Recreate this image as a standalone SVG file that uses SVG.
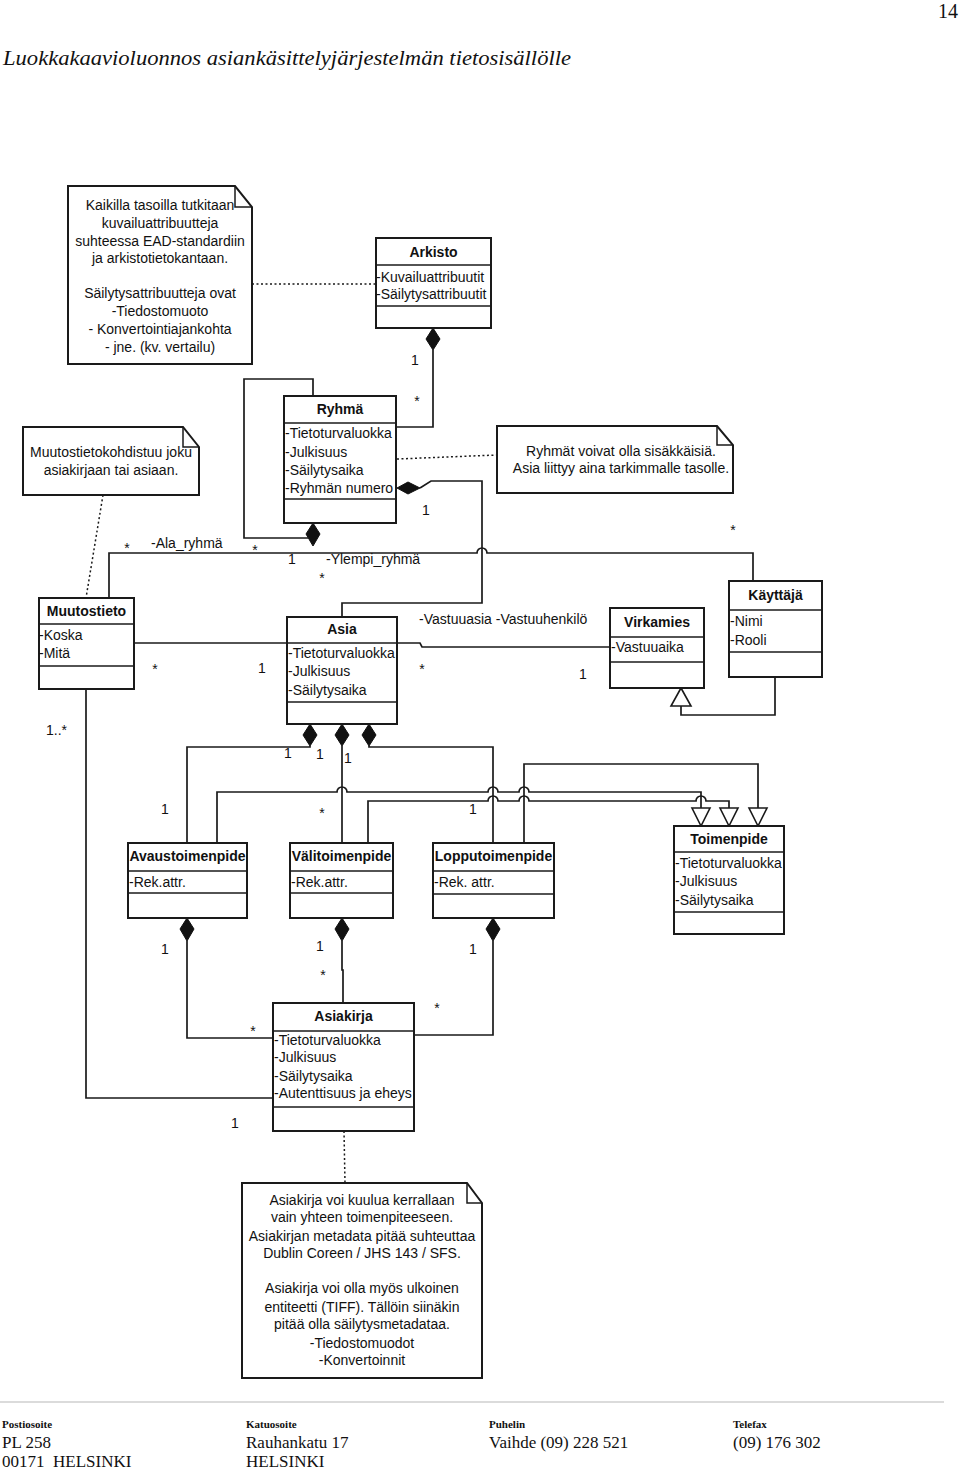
<svg xmlns="http://www.w3.org/2000/svg" width="960" height="1469" viewBox="0 0 960 1469">
<style>
.box{fill:#fff;stroke:#1a1a1a;stroke-width:2}
.sep{stroke:#1a1a1a;stroke-width:1.6}
.ln{fill:none;stroke:#1a1a1a;stroke-width:1.7}
.dot{fill:none;stroke:#1a1a1a;stroke-width:1.5;stroke-dasharray:2 2.5}
.dia{fill:#111;stroke:#111;stroke-width:1}
.tri{fill:#fff;stroke:#1a1a1a;stroke-width:1.6}
.note{fill:#fff;stroke:#1a1a1a;stroke-width:2}
.fold{fill:none;stroke:#1a1a1a;stroke-width:1.5}
.t{font-family:"Liberation Sans",Arial,sans-serif;font-size:14px;fill:#111}
.b{font-weight:bold}
.m{text-anchor:middle}
.serif{font-family:"Liberation Serif","Times New Roman",serif;fill:#111}
</style>
<rect width="960" height="1469" fill="#fff"/>
<g id="header">
<text class="serif" x="958" y="18" font-size="20" text-anchor="end">14</text>
<text class="serif" x="3" y="65" font-size="22" font-style="italic" textLength="568" lengthAdjust="spacingAndGlyphs">Luokkakaavioluonnos asiankäsittelyjärjestelmän tietosisällölle</text>
</g>

<g id="connectors">
<!-- note1 - Arkisto -->
<path class="dot" d="M252,284 L376,284"/>
<!-- Arkisto - Ryhmä -->
<polygon class="dia" points="433,328 440,339 433,350 426,339"/>
<path class="ln" d="M433,350 L433,427 L397,427"/>
<!-- Ryhmä self association -->
<path class="ln" d="M313,396 L313,379 L244,379 L244,538 L308,538"/>
<polygon class="dia" points="313,523 320,534 313,546 306,534"/>
<!-- Ryhmä - note2 -->
<path class="dot" d="M397,459 L497,455"/>
<!-- Ryhmä - Asia -->
<polygon class="dia" points="397,488 408,482 420,488 408,494"/>
<path class="ln" d="M420,488 L431,481 L482,481 L482,603 L342,603 L342,617"/>
<!-- Muutostieto - Käyttäjä -->
<path class="ln" d="M109,598 L109,553 L477,553 A5,5 0 0 1 487,553 L753,553 L753,581"/>
<!-- note3 - Muutostieto -->
<path class="dot" d="M103,495 L86,598"/>
<!-- Muutostieto - Asia -->
<path class="ln" d="M134,643 L287,643"/>
<!-- Asia - Virkamies -->
<path class="ln" d="M397,643 L420,643 L422,647 L610,647"/>
<!-- Käyttäjä -> Virkamies generalization -->
<polygon class="tri" points="681,688 691,706 671,706"/>
<path class="ln" d="M681,706 L681,715 L775,715 L775,677"/>
<!-- Muutostieto - Asiakirja -->
<path class="ln" d="M86,689 L86,1098 L273,1098"/>
<!-- Asia - Avaustoimenpide -->
<polygon class="dia" points="310,724 317,735 310,746 303,735"/>
<path class="ln" d="M310,746 L310,747 L187,747 L187,843"/>
<!-- Asia - Välitoimenpide -->
<polygon class="dia" points="342,724 349,735 342,746 335,735"/>
<path class="ln" d="M342,746 L342,843"/>
<!-- Asia - Lopputoimenpide -->
<polygon class="dia" points="369,724 376,735 369,746 362,735"/>
<path class="ln" d="M369,746 L369,747 L493,747 L493,843"/>
<!-- Avaustoimenpide -> Toimenpide -->
<path class="ln" d="M217,843 L217,792 L337,792 A5,5 0 0 1 347,792 L488,792 A5,5 0 0 1 498,792 L519,792 A5,5 0 0 1 529,792 L701,792 L701,808"/>
<polygon class="tri" points="692,808 710,808 701,826"/>
<!-- Välitoimenpide -> Toimenpide -->
<path class="ln" d="M368,843 L368,801 L488,801 A5,5 0 0 1 498,801 L519,801 A5,5 0 0 1 529,801 L696,801 A5,5 0 0 1 706,801 L729,801 L729,808"/>
<polygon class="tri" points="720,808 738,808 729,826"/>
<!-- Lopputoimenpide -> Toimenpide -->
<path class="ln" d="M524,843 L524,764 L758,764 L758,808"/>
<polygon class="tri" points="749,808 767,808 758,826"/>
<!-- Avaustoimenpide - Asiakirja -->
<polygon class="dia" points="187,918 194,929 187,941 180,929"/>
<path class="ln" d="M187,941 L187,1038 L273,1038"/>
<!-- Välitoimenpide - Asiakirja -->
<polygon class="dia" points="342,918 349,929 342,941 335,929"/>
<path class="ln" d="M342,941 L342,970 L343,970 L343,1003"/>
<!-- Lopputoimenpide - Asiakirja -->
<polygon class="dia" points="493,918 500,929 493,941 486,929"/>
<path class="ln" d="M493,941 L493,1035 L414,1035"/>
<!-- Asiakirja - note4 -->
<path class="dot" d="M344,1131 L345,1183"/>
</g>

<g id="labels" class="t">
<text x="415" y="365" class="m">1</text>
<text x="417" y="406" class="m">*</text>
<text x="426" y="515" class="m">1</text>
<text x="127" y="553" class="m">*</text>
<text x="151" y="548">-Ala_ryhmä</text>
<text x="255" y="555" class="m">*</text>
<text x="292" y="564" class="m">1</text>
<text x="326" y="564">-Ylempi_ryhmä</text>
<text x="322" y="583" class="m">*</text>
<text x="733" y="535" class="m">*</text>
<text x="155" y="674" class="m">*</text>
<text x="262" y="673" class="m">1</text>
<text x="422" y="674" class="m">*</text>
<text x="583" y="679" class="m">1</text>
<text x="419" y="624">-Vastuuasia -Vastuuhenkilö</text>
<text x="46" y="735">1..*</text>
<text x="288" y="758" class="m">1</text>
<text x="320" y="759" class="m">1</text>
<text x="348" y="763" class="m">1</text>
<text x="165" y="814" class="m">1</text>
<text x="322" y="818" class="m">*</text>
<text x="473" y="814" class="m">1</text>
<text x="165" y="954" class="m">1</text>
<text x="320" y="951" class="m">1</text>
<text x="323" y="980" class="m">*</text>
<text x="473" y="954" class="m">1</text>
<text x="253" y="1036" class="m">*</text>
<text x="437" y="1013" class="m">*</text>
<text x="235" y="1128" class="m">1</text>
</g>

<g id="note1">
<path class="note" d="M68,186 L235,186 L252,207 L252,364 L68,364 Z"/>
<path class="fold" d="M235,186 L235,207 L252,207"/>
<g class="t m">
<text x="160" y="210">Kaikilla tasoilla tutkitaan</text>
<text x="160" y="228">kuvailuattribuutteja</text>
<text x="160" y="246">suhteessa EAD-standardiin</text>
<text x="160" y="263">ja arkistotietokantaan.</text>
<text x="160" y="298">Säilytysattribuutteja ovat</text>
<text x="160" y="316">-Tiedostomuoto</text>
<text x="160" y="334">- Konvertointiajankohta</text>
<text x="160" y="352">- jne. (kv. vertailu)</text>
</g>
</g>

<g id="note2">
<path class="note" d="M497,426 L717,426 L733,445 L733,493 L497,493 Z"/>
<path class="fold" d="M717,426 L717,445 L733,445"/>
<text class="t m" x="621" y="456">Ryhmät voivat olla sisäkkäisiä.</text>
<text class="t m" x="621" y="473">Asia liittyy aina tarkimmalle tasolle.</text>
</g>

<g id="note3">
<path class="note" d="M23,427 L183,427 L199,447 L199,495 L23,495 Z"/>
<path class="fold" d="M183,427 L183,447 L199,447"/>
<text class="t m" x="111" y="457">Muutostietokohdistuu joku</text>
<text class="t m" x="111" y="475">asiakirjaan tai asiaan.</text>
</g>

<g id="note4">
<path class="note" d="M242,1183 L467,1183 L482,1203 L482,1378 L242,1378 Z"/>
<path class="fold" d="M467,1183 L467,1203 L482,1203"/>
<g class="t m">
<text x="362" y="1205">Asiakirja voi kuulua kerrallaan</text>
<text x="362" y="1222">vain yhteen toimenpiteeseen.</text>
<text x="362" y="1241">Asiakirjan metadata pitää suhteuttaa</text>
<text x="362" y="1258">Dublin Coreen / JHS 143 / SFS.</text>
<text x="362" y="1293">Asiakirja voi olla myös ulkoinen</text>
<text x="362" y="1312">entiteetti (TIFF). Tällöin siinäkin</text>
<text x="362" y="1329">pitää olla säilytysmetadataa.</text>
<text x="362" y="1348">-Tiedostomuodot</text>
<text x="362" y="1365">-Konvertoinnit</text>
</g>
</g>

<g id="Arkisto">
<rect class="box" x="376" y="238" width="115" height="90"/>
<line class="sep" x1="376" y1="265" x2="491" y2="265"/>
<line class="sep" x1="376" y1="306" x2="491" y2="306"/>
<text class="t b m" x="433.5" y="257">Arkisto</text>
<text class="t" x="376" y="282">-Kuvailuattribuutit</text>
<text class="t" x="376" y="299">-Säilytysattribuutit</text>
</g>

<g id="Ryhma">
<rect class="box" x="284" y="396" width="112" height="127"/>
<line class="sep" x1="284" y1="423" x2="396" y2="423"/>
<line class="sep" x1="284" y1="499" x2="396" y2="499"/>
<text class="t b m" x="340" y="414">Ryhmä</text>
<text class="t" x="285" y="438">-Tietoturvaluokka</text>
<text class="t" x="285" y="457">-Julkisuus</text>
<text class="t" x="285" y="475">-Säilytysaika</text>
<text class="t" x="285" y="493">-Ryhmän numero</text>
</g>

<g id="Muutostieto">
<rect class="box" x="39" y="598" width="95" height="91"/>
<line class="sep" x1="39" y1="624" x2="134" y2="624"/>
<line class="sep" x1="39" y1="666" x2="134" y2="666"/>
<text class="t b m" x="86.5" y="616">Muutostieto</text>
<text class="t" x="39" y="640">-Koska</text>
<text class="t" x="39" y="658">-Mitä</text>
</g>

<g id="Asia">
<rect class="box" x="287" y="617" width="110" height="107"/>
<line class="sep" x1="287" y1="643" x2="397" y2="643"/>
<line class="sep" x1="287" y1="702" x2="397" y2="702"/>
<text class="t b m" x="342" y="634">Asia</text>
<text class="t" x="288" y="658">-Tietoturvaluokka</text>
<text class="t" x="288" y="676">-Julkisuus</text>
<text class="t" x="288" y="695">-Säilytysaika</text>
</g>

<g id="Virkamies">
<rect class="box" x="610" y="608" width="94" height="80"/>
<line class="sep" x1="610" y1="637" x2="704" y2="637"/>
<line class="sep" x1="610" y1="662" x2="704" y2="662"/>
<text class="t b m" x="657" y="627">Virkamies</text>
<text class="t" x="611" y="652">-Vastuuaika</text>
</g>

<g id="Kayttaja">
<rect class="box" x="729" y="581" width="93" height="96"/>
<line class="sep" x1="729" y1="610" x2="822" y2="610"/>
<line class="sep" x1="729" y1="652" x2="822" y2="652"/>
<text class="t b m" x="775.5" y="600">Käyttäjä</text>
<text class="t" x="730" y="626">-Nimi</text>
<text class="t" x="730" y="645">-Rooli</text>
</g>

<g id="Avaustoimenpide">
<rect class="box" x="128" y="843" width="119" height="75"/>
<line class="sep" x1="128" y1="871" x2="247" y2="871"/>
<line class="sep" x1="128" y1="893" x2="247" y2="893"/>
<text class="t b m" x="187.5" y="861">Avaustoimenpide</text>
<text class="t" x="129" y="887">-Rek.attr.</text>
</g>

<g id="Valitoimenpide">
<rect class="box" x="290" y="843" width="103" height="75"/>
<line class="sep" x1="290" y1="871" x2="393" y2="871"/>
<line class="sep" x1="290" y1="893" x2="393" y2="893"/>
<text class="t b m" x="341.5" y="861">Välitoimenpide</text>
<text class="t" x="291" y="887">-Rek.attr.</text>
</g>

<g id="Lopputoimenpide">
<rect class="box" x="433" y="843" width="121" height="75"/>
<line class="sep" x1="433" y1="871" x2="554" y2="871"/>
<line class="sep" x1="433" y1="894" x2="554" y2="894"/>
<text class="t b m" x="493.5" y="861">Lopputoimenpide</text>
<text class="t" x="434" y="887">-Rek. attr.</text>
</g>

<g id="Toimenpide">
<rect class="box" x="674" y="826" width="110" height="108"/>
<line class="sep" x1="674" y1="852" x2="784" y2="852"/>
<line class="sep" x1="674" y1="912" x2="784" y2="912"/>
<text class="t b m" x="729" y="844">Toimenpide</text>
<text class="t" x="675" y="868">-Tietoturvaluokka</text>
<text class="t" x="675" y="886">-Julkisuus</text>
<text class="t" x="675" y="905">-Säilytysaika</text>
</g>

<g id="Asiakirja">
<rect class="box" x="273" y="1003" width="141" height="128"/>
<line class="sep" x1="273" y1="1031" x2="414" y2="1031"/>
<line class="sep" x1="273" y1="1107" x2="414" y2="1107"/>
<text class="t b m" x="343.5" y="1021">Asiakirja</text>
<text class="t" x="274" y="1045">-Tietoturvaluokka</text>
<text class="t" x="274" y="1062">-Julkisuus</text>
<text class="t" x="274" y="1081">-Säilytysaika</text>
<text class="t" x="274" y="1098">-Autenttisuus ja eheys</text>
</g>

<g id="footer">
<line x1="0" y1="1402" x2="944" y2="1402" stroke="#cfcfcf" stroke-width="1.5"/>
<g class="serif" font-size="11" font-weight="bold">
<text x="2" y="1428">Postiosoite</text>
<text x="246" y="1428">Katuosoite</text>
<text x="489" y="1428">Puhelin</text>
<text x="733" y="1428">Telefax</text>
</g>
<g class="serif" font-size="17">
<text x="2" y="1448">PL 258</text>
<text x="2" y="1467">00171&#160; HELSINKI</text>
<text x="246" y="1448">Rauhankatu 17</text>
<text x="246" y="1467">HELSINKI</text>
<text x="489" y="1448">Vaihde (09) 228 521</text>
<text x="733" y="1448">(09) 176 302</text>
</g>
</g>
</svg>
